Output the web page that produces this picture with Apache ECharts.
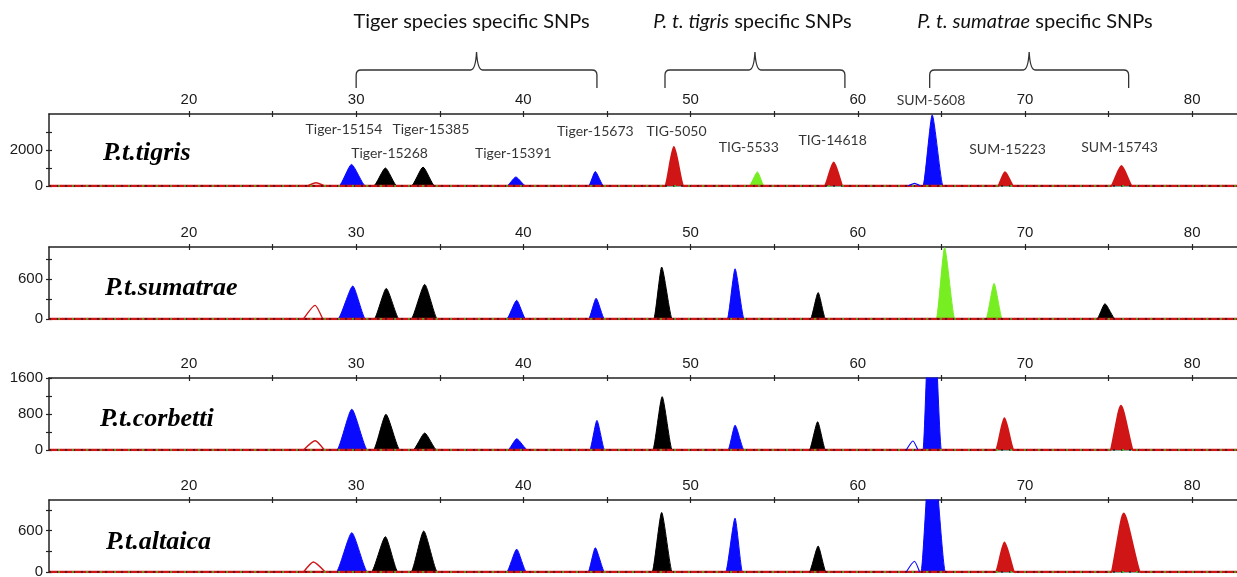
<!DOCTYPE html>
<html><head><meta charset="utf-8">
<script src="https://cdn.jsdelivr.net/npm/echarts@6/dist/echarts.min.js"></script>
<style>html,body{margin:0;padding:0;background:#fff}#c{width:1237px;height:577px}</style>
</head><body><div id="c"></div>
<script>
// ---------- axis data ----------
const X_MIN = 11.63, X_MAX = 82.68;
const xTickValues = [20, 25, 30, 35, 40, 45, 50, 55, 60, 65, 70, 75, 80];
const xLabelValues = [20, 30, 40, 50, 60, 70, 80];
const species = ['P.t.tigris', 'P.t.sumatrae', 'P.t.corbetti', 'P.t.altaica'];
const yMaxes = [4000, 1080, 1600, 1045];
const yTickValues = [[0, 1000, 2000, 3000], [0, 300, 600, 900], [0, 400, 800, 1200, 1600], [0, 300, 600, 900]];
const yLabelValues = [[0, 2000], [0, 600], [0, 800, 1600], [0, 600]];

// ---------- peaks: [start, apex, end, height] ----------
const tigrisBlue = [[28.97, 29.72, 30.56, 1200], [39.0, 39.55, 40.15, 500], [43.9, 44.3, 44.8, 800], [63.9, 64.45, 65.1, 3950]];
const tigrisBlack = [[31.04, 31.75, 32.44, 1000], [33.3, 34.0, 34.7, 1050]];
const tigrisGreen = [[53.5, 54.0, 54.4, 780]];
const tigrisRed = [[48.5, 49.0, 49.55, 2150], [58.03, 58.56, 59.1, 1300], [68.4, 68.8, 69.3, 750], [75.15, 75.77, 76.4, 1100]];
const tigrisRedOutline = [[27.1, 27.6, 28.1, 180]];
const tigrisBlueOutline = [[63.0, 63.4, 63.75, 150]];

const sumatraeBlue = [[28.9, 29.8, 30.56, 494], [39.0, 39.6, 40.14, 280], [43.9, 44.35, 44.85, 310], [52.2, 52.66, 53.2, 753]];
const sumatraeBlack = [[31.07, 31.8, 32.57, 458], [33.28, 34.1, 34.86, 519], [47.8, 48.27, 48.9, 779], [57.17, 57.63, 58.07, 397], [74.3, 74.78, 75.4, 229]];
const sumatraeGreen = [[64.7, 65.19, 65.8, 1069], [67.67, 68.15, 68.64, 534]];
const sumatraeRed = [];
const sumatraeRedOutline = [[26.85, 27.55, 28.0, 204]];
const sumatraeBlueOutline = [];

const corbettiBlue = [[28.84, 29.74, 30.68, 906], [39.07, 39.6, 40.26, 249], [43.97, 44.4, 44.86, 657], [52.24, 52.66, 53.2, 551], [63.9, 64.4, 65.0, 4400]];
const corbettiBlack = [[31.03, 31.78, 32.62, 793], [33.4, 34.1, 34.82, 377], [47.74, 48.3, 48.9, 1185], [57.1, 57.6, 58.07, 627]];
const corbettiGreen = [];
const corbettiRed = [[68.28, 68.77, 69.3, 702], [75.1, 75.74, 76.47, 981]];
const corbettiRedOutline = [[26.85, 27.55, 28.1, 204]];
const corbettiBlueOutline = [[62.9, 63.3, 63.6, 200]];

const altaicaBlue = [[28.8, 29.74, 30.68, 571], [39.0, 39.6, 40.18, 332], [43.87, 44.3, 44.86, 351], [52.1, 52.66, 53.1, 781], [63.78, 64.4, 65.24, 2100]];
const altaicaBlack = [[30.9, 31.75, 32.5, 512], [33.28, 34.04, 34.86, 595], [47.7, 48.27, 48.9, 864], [57.1, 57.63, 58.1, 376]];
const altaicaGreen = [];
const altaicaRed = [[68.28, 68.77, 69.37, 425], [75.15, 75.9, 76.9, 845]];
const altaicaRedOutline = [[26.85, 27.44, 28.15, 146]];
const altaicaBlueOutline = [[62.9, 63.4, 63.7, 156]];

// ---------- annotations ----------
const snpNames = ['Tiger-15154', 'Tiger-15385', 'Tiger-15268', 'Tiger-15391', 'Tiger-15673', 'TIG-5050', 'TIG-5533', 'TIG-14618', 'SUM-5608', 'SUM-15223', 'SUM-15743'];
const snpX = [29.27, 34.47, 32.0, 39.4, 44.3, 49.16, 53.48, 58.5, 64.38, 68.96, 75.66];
const snpY = [3167, 3167, 1833, 1780, 3056, 3028, 2139, 2556, 4778, 2056, 2167];

const groupStart = [30.0, 48.47, 64.3];
const groupEnd = [44.4, 59.23, 76.2];
const groupTitleAt = [36.9, 53.7, 70.6];
const groupTitles = ['Tiger species specific SNPs', '{i|P. t. tigris} specific SNPs', '{i|P. t. sumatrae} specific SNPs'];

// ---------- build ----------
const panels = [
  {blue: tigrisBlue, black: tigrisBlack, green: tigrisGreen, red: tigrisRed, redO: tigrisRedOutline, blueO: tigrisBlueOutline},
  {blue: sumatraeBlue, black: sumatraeBlack, green: sumatraeGreen, red: sumatraeRed, redO: sumatraeRedOutline, blueO: sumatraeBlueOutline},
  {blue: corbettiBlue, black: corbettiBlack, green: corbettiGreen, red: corbettiRed, redO: corbettiRedOutline, blueO: corbettiBlueOutline},
  {blue: altaicaBlue, black: altaicaBlack, green: altaicaGreen, red: altaicaRed, redO: altaicaRedOutline, blueO: altaicaBlueOutline}
];
const panelTops = [114, 247, 378, 500];
const titleLeft = [103, 105, 100, 106];
const titleTop = [140, 275, 406, 529];

const C_BLUE = '#0a0aff', C_BLACK = '#000000', C_GREEN = '#77ee22', C_RED = '#cf1515';
const AX = '#222';

function trace(peaks) {
  const pts = [[X_MIN, 0]];
  peaks.forEach(p => { pts.push([p[0], 0], [p[1], p[3]], [p[2], 0]); });
  pts.push([X_MAX, 0]);
  return pts;
}
function outline(peaks) {
  const pts = [];
  peaks.forEach(p => { pts.push([p[0], 0], [p[1], p[3]], [p[2], 0]); });
  return pts;
}
const plainNum = v => String(v);

const grids = [], xAxes = [], yAxes = [], series = [], titles = [];
panels.forEach((p, i) => {
  grids.push({left: 49, right: 0, top: panelTops[i], height: 72, containLabel: false, outerBoundsMode: 'none'});
  const common = {type: 'value', gridIndex: i, min: X_MIN, max: X_MAX, position: 'top', splitLine: {show: false}};
  xAxes.push(Object.assign({}, common, {
    axisLine: {show: true, onZero: false, lineStyle: {color: AX, width: 1.5}},
    axisTick: {show: true, inside: false, length: 3, customValues: xTickValues, lineStyle: {color: AX, width: 1.2}},
    axisLabel: {show: true, customValues: xLabelValues, formatter: plainNum, margin: 7, color: '#1a1a1a', fontSize: 15, fontFamily: 'Liberation Sans, Arial'}
  }));
  xAxes.push(Object.assign({}, common, {
    axisLine: {show: false, onZero: false},
    axisTick: {show: true, inside: true, length: 3, customValues: xTickValues, lineStyle: {color: AX, width: 1.2}},
    axisLabel: {show: false}
  }));
  const yc = {type: 'value', gridIndex: i, min: 0, max: yMaxes[i], position: 'left', splitLine: {show: false}};
  yAxes.push(Object.assign({}, yc, {
    axisLine: {show: true, onZero: false, lineStyle: {color: AX, width: 1.5}},
    axisTick: {show: true, inside: false, length: 3, customValues: yTickValues[i], lineStyle: {color: AX, width: 1.2}},
    axisLabel: {show: true, customValues: yLabelValues[i], formatter: plainNum, margin: 6, color: '#1a1a1a', fontSize: 15, fontFamily: 'Liberation Sans, Arial'}
  }));
  yAxes.push(Object.assign({}, yc, {
    axisLine: {show: false, onZero: false},
    axisTick: {show: true, inside: true, length: 3, customValues: yTickValues[i], lineStyle: {color: AX, width: 1.2}},
    axisLabel: {show: false}
  }));
  titles.push({text: species[i], left: titleLeft[i], top: titleTop[i], padding: 0,
    textStyle: {fontFamily: 'Liberation Serif, Times New Roman, serif', fontStyle: 'italic', fontWeight: 'bold', fontSize: 26, color: '#000'}});

  const base = {type: 'line', xAxisIndex: 2 * i, yAxisIndex: 2 * i, symbol: 'none', animation: false, silent: true, clip: true,
    smooth: 0.2, smoothMonotone: 'x'};
  [[p.blue, C_BLUE, 1, 2], [p.black, C_BLACK, 1, 2], [p.green, C_GREEN, 1, 2], [p.red, C_RED, 2.4, 3]].forEach(([pk, col, w, z]) => {
    series.push(Object.assign({}, base, {z: z, data: trace(pk), lineStyle: {color: col, width: w}, areaStyle: {color: col, opacity: 1}}));
  });
  p.redO.forEach(pk => series.push(Object.assign({}, base, {z: 3, data: outline([pk]), lineStyle: {color: C_RED, width: 1.4}})));
  p.blueO.forEach(pk => series.push(Object.assign({}, base, {z: 3, data: outline([pk]), lineStyle: {color: C_BLUE, width: 1.2}})));
  series.push(Object.assign({}, base, {smooth: false, z: 4, data: [[X_MIN, 0], [X_MAX, 0]], lineStyle: {color: '#1a1a1a', width: 1.6, type: [2, 6]}}));
  series.push(Object.assign({}, base, {smooth: false, z: 4, data: [[X_MIN, 0], [X_MAX, 0]], lineStyle: {color: '#44cc22', width: 1.6, type: [2, 12], dashOffset: 5}}));
});

series.push({
  type: 'scatter', xAxisIndex: 0, yAxisIndex: 0, symbolSize: 0, clip: false, silent: true, animation: false, z: 10,
  data: snpNames.map((n, k) => ({name: n, value: [snpX[k], snpY[k]]})),
  label: {show: true, position: 'inside', formatter: '{b}', color: '#000', fontSize: 14, fontFamily: 'Lato, Calibri, sans-serif'}
});

series.push({
  type: 'custom', xAxisIndex: 0, yAxisIndex: 0, clip: false, silent: true, animation: false, z: 10,
  data: groupStart.map((s, k) => [s, groupEnd[k], groupTitleAt[k]]),
  encode: {x: [0, 1, 2]},
  renderItem: function (params, api) {
    const xL = api.coord([api.value(0), 0])[0];
    const xR = api.coord([api.value(1), 0])[0];
    const xT = api.coord([api.value(2), 0])[0];
    const xc = (xL + xR) / 2;
    const t = params.coordSys.y;
    const yEnd = t - 26, yH = t - 44, yTip = t - 62;
    const d = 'M' + xL + ',' + yEnd + ' L' + xL + ',' + (yH + 5) + ' Q' + xL + ',' + yH + ' ' + (xL + 5) + ',' + yH +
      ' L' + (xc - 6) + ',' + yH + ' Q' + (xc - 1) + ',' + yH + ' ' + xc + ',' + yTip +
      ' Q' + (xc + 1) + ',' + yH + ' ' + (xc + 6) + ',' + yH +
      ' L' + (xR - 5) + ',' + yH + ' Q' + xR + ',' + yH + ' ' + xR + ',' + (yH + 5) + ' L' + xR + ',' + yEnd;
    return {type: 'group', children: [
      {type: 'path', shape: {pathData: d}, style: {stroke: '#333', fill: null, lineWidth: 1.3}},
      {type: 'text', x: xT, y: t - 92, style: {text: groupTitles[params.dataIndex], align: 'center', verticalAlign: 'middle',
        fill: '#111', fontSize: 20, fontFamily: 'Lato, Calibri, sans-serif',
        rich: {i: {fontStyle: 'italic', fontSize: 20, fontFamily: 'Lato, Calibri, sans-serif', fill: '#111'}}}}
    ]};
  }
});

const chart = echarts.init(document.getElementById('c'), null, {renderer: 'canvas'});
chart.setOption({animation: false, backgroundColor: '#fff', title: titles, grid: grids, xAxis: xAxes, yAxis: yAxes, series: series});
</script></body></html>
